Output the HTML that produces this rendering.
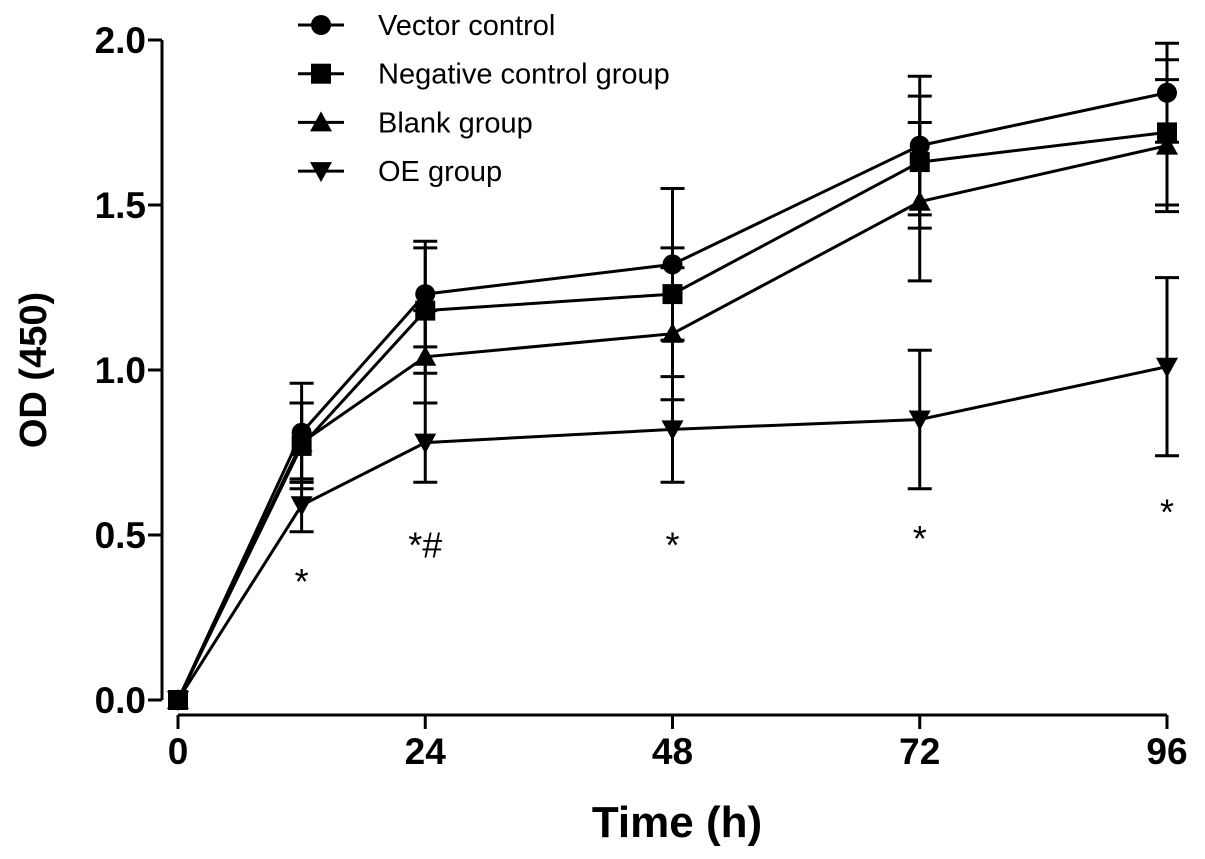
<!DOCTYPE html>
<html><head><meta charset="utf-8"><style>
body{margin:0;background:#fff}
svg{display:block;font-family:"Liberation Sans",Arial,sans-serif}
</style></head><body>
<svg id="chart" width="1205" height="859"></svg>
<script>
const times=[0,12,24,48,72,96];
const seriesNames=["Vector control","Negative control group","Blank group","OE group"];
const vectorVals=[0,0.81,1.23,1.32,1.68,1.84];
const negVals=[0,0.77,1.18,1.23,1.63,1.72];
const blankVals=[0,0.78,1.04,1.11,1.51,1.68];
const oeVals=[0,0.59,0.78,0.82,0.85,1.01];
const vectorErr=[0,0.15,0.16,0.23,0.21,0.15];
const negErr=[0,0.13,0.19,0.14,0.2,0.22];
const blankErr=[0,0.12,0.14,0.2,0.24,0.2];
const oeErr=[0,0.08,0.12,0.16,0.21,0.27];
const yTicks=[0,0.5,1.0,1.5,2.0];
const xTicks=[0,24,48,72,96];
const annTimes=[12,24,48,72,96];
const annLabels=["*","*#","*","*","*"];
const annVals=[0.37,0.48,0.48,0.5,0.58];

const NS="http://www.w3.org/2000/svg";
const svg=document.getElementById('chart');
const X=t=>178+t*(1167-178)/96;
const Y=v=>700-v*330;
function mk(tag,attrs,parent){const e=document.createElementNS(NS,tag);for(const k in attrs)e.setAttribute(k,attrs[k]);(parent||svg).appendChild(e);return e;}

const yAxis=mk('g',{});


mk('line',{x1:162,y1:Y(2),x2:162,y2:Y(0),stroke:'#000','stroke-width':3},yAxis);
yTicks.forEach(v=>{
  mk('line',{x1:148,y1:Y(v),x2:162,y2:Y(v),stroke:'#000','stroke-width':3},yAxis);
  const t=mk('text',{x:146,y:Y(v)+13,'text-anchor':'end','font-size':37,'font-weight':'bold'},yAxis);
  t.textContent=v.toFixed(1);
  
  
});
const xAxis=mk('g',{});


mk('line',{x1:X(0),y1:715,x2:X(96),y2:715,stroke:'#000','stroke-width':3},xAxis);
xTicks.forEach(v=>{
  mk('line',{x1:X(v),y1:715,x2:X(v),y2:729,stroke:'#000','stroke-width':3},xAxis);
  const t=mk('text',{x:X(v),y:764,'text-anchor':'middle','font-size':37,'font-weight':'bold'},xAxis);
  t.textContent=v;
  
  
});
const xt=mk('text',{x:677,y:837,'text-anchor':'middle','font-size':44,'font-weight':'bold'});
xt.textContent='Time (h)';


const yt=mk('text',{x:0,y:0,'text-anchor':'middle','font-size':38,'font-weight':'bold',transform:'translate(46,370) rotate(-90)'});
yt.textContent='OD (450)';



function marker(kind,x,y,g){
  if(kind==0)mk('circle',{cx:x,cy:y,r:10,fill:'#000'},g);
  else if(kind==1)mk('rect',{x:x-10,y:y-10,width:20,height:20,fill:'#000'},g);
  else if(kind==2)mk('polygon',{points:`${x},${y-11} ${x+11},${y+9} ${x-11},${y+9}`,fill:'#000'},g);
  else mk('polygon',{points:`${x},${y+11} ${x+11},${y-9} ${x-11},${y-9}`,fill:'#000'},g);
}
const allVals=[vectorVals,negVals,blankVals,oeVals];
const allErr=[vectorErr,negErr,blankErr,oeErr];
allVals.forEach((vals,si)=>{
  const g=mk('g',{});
  
  
  mk('polyline',{points:vals.map((v,i)=>X(times[i])+','+Y(v)).join(' '),fill:'none',stroke:'#000','stroke-width':3},g);
  vals.forEach((v,i)=>{
    const e=allErr[si][i];
    if(e>0){
      const x=X(times[i]);
      mk('line',{x1:x,y1:Y(v-e),x2:x,y2:Y(v+e),stroke:'#000','stroke-width':3},g);
      mk('line',{x1:x-12,y1:Y(v+e),x2:x+12,y2:Y(v+e),stroke:'#000','stroke-width':3},g);
      mk('line',{x1:x-12,y1:Y(v-e),x2:x+12,y2:Y(v-e),stroke:'#000','stroke-width':3},g);
    }
    marker(si,X(times[i]),Y(v),g);
  });
});
annTimes.forEach((t,i)=>{
  const a=mk('text',{x:X(t),y:Y(annVals[i])+16,'text-anchor':'middle','font-size':36});
  a.textContent=annLabels[i];
  
  
});
const lg=mk('g',{});


seriesNames.forEach((n,i)=>{
  const y=25+i*48.7;
  const e=mk('g',{},lg);
  
  
  mk('line',{x1:298,y1:y,x2:344,y2:y,stroke:'#000','stroke-width':3},e);
  marker(i,321,y,e);
  const t=mk('text',{x:378,y:y+10,'font-size':29},e);
  t.textContent=n;
});
</script>
</body></html>
